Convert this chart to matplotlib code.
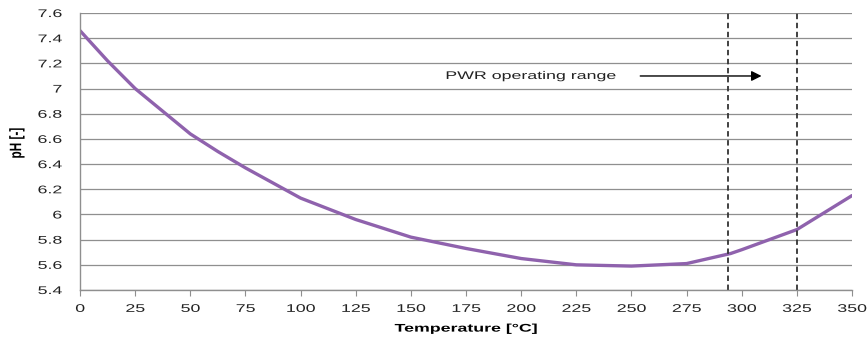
import matplotlib
matplotlib.use("Agg")
import matplotlib.pyplot as plt
from matplotlib.patheffects import AbstractPathEffect
from matplotlib.transforms import Affine2D

# pH of the primary coolant as a function of temperature
temperature = [0, 12.5, 25, 37.5, 50, 62.5, 75, 87.5, 100, 125, 150, 175, 200,
               225, 250, 275, 295, 300, 325, 350]
ph = [7.46, 7.22, 7.00, 6.82, 6.64, 6.50, 6.37, 6.25, 6.13, 5.96, 5.82, 5.73, 5.65,
      5.60, 5.59, 5.61, 5.69, 5.72, 5.88, 6.15]

x_ticks = [0, 25, 50, 75, 100, 125, 150, 175, 200, 225, 250, 275, 300, 325, 350]
y_ticks = [5.4, 5.6, 5.8, 6.0, 6.2, 6.4, 6.6, 6.8, 7.0, 7.2, 7.4, 7.6]
y_tick_labels = ["5.4", "5.6", "5.8", "6", "6.2", "6.4", "6.6", "6.8", "7", "7.2", "7.4", "7.6"]

range_limits = [294, 325]
range_label = "PWR operating range"


class Stretch(AbstractPathEffect):
    """Widen glyphs along the text baseline around a chosen anchor."""

    def __init__(self, sx=1.0, sy=1.0, anchor="center"):
        super().__init__()
        self.sx = sx
        self.sy = sy
        self.anchor = anchor

    def draw_path(self, renderer, gc, tpath, affine, rgbFace=None):
        v = tpath.vertices
        if len(v) == 0:
            return
        lo, hi = v[:, 0].min(), v[:, 0].max()
        cx = {"left": lo, "center": 0.5 * (lo + hi), "right": hi}[self.anchor]
        cy = 0.5 * (v[:, 1].min() + v[:, 1].max())
        pre = (Affine2D().translate(-cx, -cy)
               .scale(self.sx, self.sy).translate(cx, cy))
        renderer.draw_path(gc, tpath, pre + affine, rgbFace)


SX = 1.6
plt.rcParams["font.family"] = ["Liberation Sans", "DejaVu Sans"]

fig = plt.figure(figsize=(8.67, 3.43), dpi=100)
ax = fig.add_axes([0.0923, 0.1545, 0.8904, 0.8075])

ax.set_xlim(0, 350)
ax.set_ylim(5.4, 7.6)
ax.set_xticks(x_ticks)
ax.set_yticks(y_ticks)
ax.set_yticklabels(y_tick_labels)

ax.grid(axis="y", color="#8f8f8f", linewidth=0.9)
ax.set_axisbelow(True)

for side in ("top", "right"):
    ax.spines[side].set_visible(False)
for side in ("left", "bottom"):
    ax.spines[side].set_color("#8f8f8f")
    ax.spines[side].set_linewidth(1.0)

ax.tick_params(axis="x", direction="out", length=4, color="#8f8f8f", labelsize=8, pad=6)
ax.tick_params(axis="y", length=0, labelsize=8, pad=13)

for lbl in ax.get_xticklabels():
    lbl.set_path_effects([Stretch(SX, 1.0, "center")])
    lbl.set_color("#222222")
for lbl in ax.get_yticklabels():
    lbl.set_path_effects([Stretch(SX, 1.0, "right")])
    lbl.set_color("#222222")

ax.plot(temperature, ph, color="#8f62ad", linewidth=2.4, solid_capstyle="round")

for t in range_limits:
    ax.axvline(t, color="#333333", linestyle=(0, (3, 2)), linewidth=1.3)

ax.text(204.5, 7.1, range_label, fontsize=8, va="center", ha="center",
        color="#222222", path_effects=[Stretch(SX, 1.0, "center")])
ax.annotate("", xy=(309, 7.1), xytext=(254, 7.1),
            arrowprops=dict(arrowstyle="-|>", color="black", lw=1.0,
                            mutation_scale=15, shrinkA=0, shrinkB=0))

xl = ax.set_xlabel("Temperature [°C]", fontsize=8, fontweight="bold", labelpad=7)
xl.set_path_effects([Stretch(SX, 1.0, "center")])
yl = ax.set_ylabel("pH [-]", fontsize=8.5, fontweight="bold")
yl.set_path_effects([Stretch(1.0, 1.4, "center")])
ax.yaxis.set_label_coords(-0.074, 0.53)

fig.savefig("out.png", dpi=100)
